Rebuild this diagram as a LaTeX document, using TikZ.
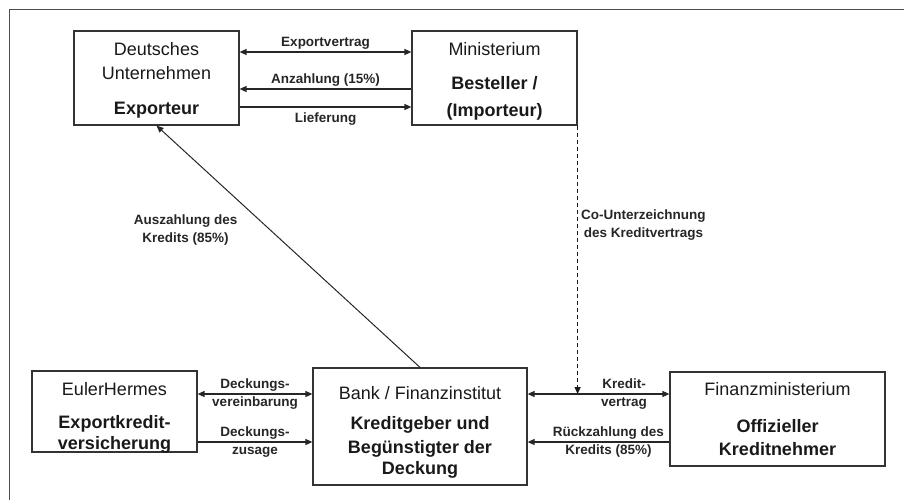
\documentclass[tikz,border=0pt]{standalone}
\usepackage{fontspec}
\setmainfont{Liberation Sans}
\usetikzlibrary{arrows.meta}
\tikzset{
    akteur/.style={draw=black!80, line width=1.2pt, align=center, inner sep=0pt,
        font=\fontsize{18}{24}\selectfont, text=black!90},
    fluss/.style={line width=1.3pt, draw=black!85},
    etikett/.style={font=\bfseries\fontsize{13.5}{18}\selectfont, align=center,
        text=black!85, inner sep=2pt},
}
\begin{document}
\begin{tikzpicture}[x=1pt, y=-1pt, >={Triangle[length=7pt,width=6pt]}]
                \useasboundingbox (0,0) rectangle (904,500);
                \draw[black!70, line width=1pt] (9,10) rectangle (920,520);
                \node[akteur, minimum width=165pt, minimum height=94pt] (exp) at (156.5,78)
                    {\rule{0pt}{17pt}Deutsches\\Unternehmen\\[11pt]\textbf{Exporteur}};
                \node[akteur, minimum width=165pt, minimum height=94pt] (min) at (494.5,78)
                    {\rule{0pt}{19pt}Ministerium\\[10pt]\textbf{Besteller /}\\[3pt]\textbf{(Importeur)}};
                \node[akteur, minimum width=165pt, minimum height=81pt] (euler) at (114.5,411.5)
                    {\rule{0pt}{21pt}EulerHermes\\[9pt]\textbf{Exportkredit-}\\[-3pt]\smash{\textbf{versicherung}}};
                \node[akteur, minimum width=214pt, minimum height=117pt] (bank) at (420,426.5)
                    {\rule{0pt}{24pt}Bank / Finanzinstitut\\[6pt]\textbf{Kreditgeber und}\\\textbf{Begünstigter der}\\[-3pt]\textbf{Deckung}};
                \node[akteur, minimum width=215pt, minimum height=94pt] (fin) at (777.5,419)
                    {\rule{0pt}{14pt}Finanzministerium\\[13pt]\textbf{Offizieller}\\[-1pt]\textbf{Kreditnehmer}};
                \coordinate (kv) at ([yshift=32.5pt]bank.east);
                \draw[fluss, <->] ([yshift=26pt]exp.east) -- ([yshift=26pt]min.west)
                    node[etikett, midway, above] {Exportvertrag};
                \draw[fluss, ->] ([yshift=-11pt]min.west) -- ([yshift=-11pt]exp.east)
                    node[etikett, midway, above] {Anzahlung (15\%)};
                \draw[fluss, ->] ([yshift=-29pt]exp.east) -- ([yshift=-29pt]min.west)
                    node[etikett, midway, below=3pt] {Lieferung};
                \draw[line width=1pt, draw=black!85, ->] (bank.north) -- (exp.south)
                    node[etikett, pos=0.57, left=30pt] {Auszahlung des\\Kredits (85\%)};
                \draw[line width=1.2pt, draw=black!90, dash pattern=on 4pt off 3pt, ->]
                    (min.south east) -- (min.south east |- kv)
                    node[etikett, pos=0.37, right=1pt] {Co-Unterzeichnung\\des Kreditvertrags};
                \draw[fluss, <->] ([yshift=17.5pt]euler.east) -- ([yshift=32.5pt]bank.west)
                    node[etikett, midway] {Deckungs-\\vereinbarung};
                \draw[fluss, ->] ([yshift=-30.5pt]euler.east) -- ([yshift=-15.5pt]bank.west)
                    node[etikett, midway] {Deckungs-\\zusage};
                \draw[fluss, <->] (kv) -- ([yshift=25pt]fin.west)
                    node[etikett, pos=0.68] {Kredit-\\vertrag};
                \draw[fluss, ->] ([yshift=-23pt]fin.west) -- ([yshift=-15.5pt]bank.east)
                    node[etikett, pos=0.43] {Rückzahlung des\\Kredits (85\%)};
            \end{tikzpicture}
\end{document}
